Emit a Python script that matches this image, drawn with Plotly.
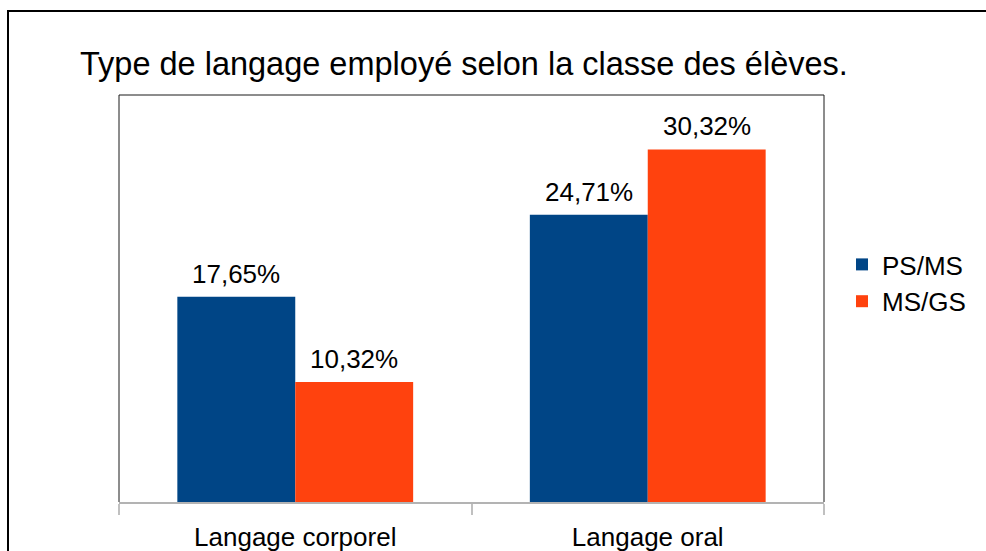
import plotly.graph_objects as go

categories = ["Langage corporel", "Langage oral"]
series_names = ["PS/MS", "MS/GS"]
ps_ms = [17.65, 24.71]
ms_gs = [10.32, 30.32]
colors = ["#004586", "#ff420e"]
title_text = "Type de langage employé selon la classe des élèves."

FONT = "Liberation Sans, Arial, sans-serif"

def fmt(v):
    return f"{v:.2f}".replace(".", ",") + "%"

W, H = 986, 551
L, R, T, B = 119, 824, 95, 502
pw, ph = R - L, B - T

def px_x(x):
    return (x - L) / pw

def px_y(y):
    return (B - y) / ph

fig = go.Figure()
for name, vals, col in zip(series_names, [ps_ms, ms_gs], colors):
    fig.add_trace(go.Bar(
        x=categories, y=vals, name=name,
        marker=dict(color=col, line=dict(width=0)),
        hoverinfo="x+y+name",
    ))

bargap = 0.331
bar_w = (1 - bargap) / 2
annotations = []
for si, vals in enumerate([ps_ms, ms_gs]):
    off = (si - 0.5) * bar_w
    for ci, v in enumerate(vals):
        annotations.append(dict(
            x=ci + off, y=v, xref="x", yref="y",
            text=fmt(v), showarrow=False,
            yanchor="bottom", yshift=6,
            font=dict(family=FONT, size=26, color="#000000"),
        ))

shapes = [
    # plot frame (left, top, right)
    dict(type="path", xref="paper", yref="paper",
         path="M0,0 L0,1 L1,1 L1,0",
         line=dict(color="#1a1a1a", width=1), layer="below"),
    # outer border (right and bottom edges lie outside the picture)
    dict(type="rect", xref="paper", yref="paper",
         x0=px_x(8), y0=-0.6, x1=1.6, y1=px_y(11),
         line=dict(color="#000000", width=2), fillcolor="rgba(0,0,0,0)"),
]

fig.update_layout(
    width=W, height=H,
    margin=dict(l=L, r=W - R, t=T, b=H - B, pad=0, autoexpand=False),
    paper_bgcolor="#ffffff", plot_bgcolor="#ffffff",
    barmode="group", bargap=bargap, bargroupgap=0,
    font=dict(family=FONT, size=26, color="#000000"),
    title=dict(text=title_text, x=80 / W, xanchor="left", xref="container",
               y=1 - 64 / H, yanchor="middle", yref="container",
               font=dict(family=FONT, size=32.5, color="#000000")),
    legend=dict(x=px_x(842), xanchor="left", y=px_y(283), yanchor="middle",
                font=dict(family=FONT, size=26, color="#000000"),
                bgcolor="rgba(0,0,0,0)", tracegroupgap=0),
    xaxis=dict(showline=True, linecolor="#b3b3b3", linewidth=2,
               ticks="outside", tickson="boundaries", ticklen=11,
               tickcolor="#c0c0c0", tickwidth=1.5, ticklabelstandoff=11,
               tickfont=dict(family=FONT, size=26, color="#000000"),
               showgrid=False, zeroline=False, automargin=False),
    yaxis=dict(range=[0, 35], visible=False, showgrid=False, zeroline=False,
               automargin=False),
    annotations=annotations,
    shapes=shapes,
    showlegend=True,
)

# Remove the browser's default 8px body margin so the figure fills the window.
fig.write_html("out.html",
               config={"displayModeBar": False},
               post_script="document.body.style.margin='0';document.body.style.overflow='hidden';")
